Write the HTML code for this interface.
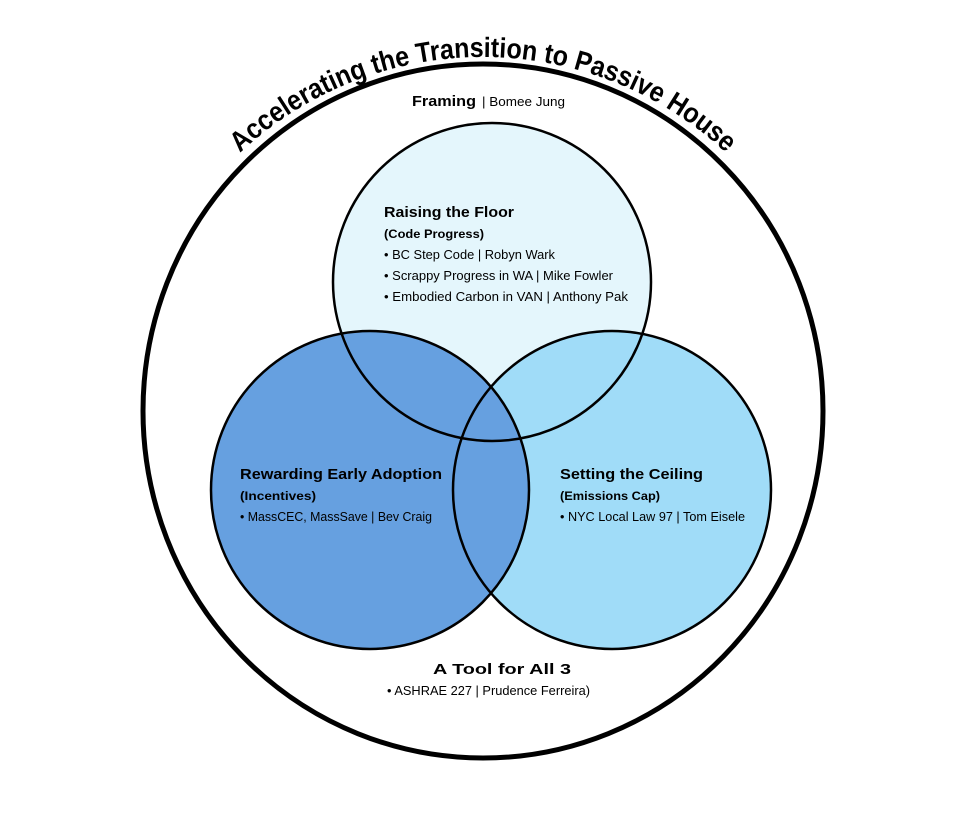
<!DOCTYPE html>
<html><head><meta charset="utf-8"><style>
html,body{margin:0;padding:0;background:#fff;}
svg{display:block;}
text{font-family:"Liberation Sans",sans-serif;fill:#000;}
.h{font-weight:bold;font-size:15px;}
.s{font-weight:bold;font-size:12px;}
.b{font-size:12.5px;}
</style></head><body>
<svg width="960" height="829" viewBox="0 0 960 829" xmlns="http://www.w3.org/2000/svg">
<defs>
<path id="arc" d="M 483 413 m -356 0 a 356 356 0 0 1 712 0"/>
</defs>
<ellipse cx="483" cy="411" rx="340" ry="347" fill="#fff" stroke="#000" stroke-width="5"/>
<text font-weight="bold" font-size="28"><textPath href="#arc" startOffset="50%" text-anchor="middle" textLength="535" lengthAdjust="spacingAndGlyphs">Accelerating the Transition to Passive House</textPath></text>
<circle cx="492" cy="282" r="159" fill="#e4f6fc"/>
<circle cx="612" cy="490" r="159" fill="#a0dcf8"/>
<circle cx="370" cy="490" r="159" fill="#66a0e0"/>
<g fill="none" stroke="#000" stroke-width="2.5">
<circle cx="492" cy="282" r="159"/>
<circle cx="612" cy="490" r="159"/>
<circle cx="370" cy="490" r="159"/>
</g>
<text x="412" y="106" class="h" font-size="14" textLength="64" lengthAdjust="spacingAndGlyphs">Framing</text>
<text x="482" y="106" class="b" textLength="83" lengthAdjust="spacingAndGlyphs">|  Bomee Jung</text>

<text x="384" y="217" class="h" textLength="130" lengthAdjust="spacingAndGlyphs">Raising the Floor</text>
<text x="384" y="238" class="s" textLength="100" lengthAdjust="spacingAndGlyphs">(Code Progress)</text>
<text x="384" y="259" class="b" textLength="171" lengthAdjust="spacingAndGlyphs">• BC Step Code  |  Robyn Wark</text>
<text x="384" y="280" class="b" textLength="229" lengthAdjust="spacingAndGlyphs">• Scrappy Progress in WA  |  Mike Fowler</text>
<text x="384" y="301" class="b" textLength="244" lengthAdjust="spacingAndGlyphs">• Embodied Carbon in VAN  |  Anthony Pak</text>

<text x="240" y="479" class="h" textLength="202" lengthAdjust="spacingAndGlyphs">Rewarding Early Adoption</text>
<text x="240" y="500" class="s" textLength="76" lengthAdjust="spacingAndGlyphs">(Incentives)</text>
<text x="240" y="521" class="b" textLength="192" lengthAdjust="spacingAndGlyphs">• MassCEC, MassSave  |  Bev Craig</text>

<text x="560" y="479" class="h" textLength="143" lengthAdjust="spacingAndGlyphs">Setting the Ceiling</text>
<text x="560" y="500" class="s" textLength="100" lengthAdjust="spacingAndGlyphs">(Emissions Cap)</text>
<text x="560" y="521" class="b" textLength="185" lengthAdjust="spacingAndGlyphs">• NYC Local Law 97  |  Tom Eisele</text>

<text x="433" y="674" class="h" textLength="138" lengthAdjust="spacingAndGlyphs">A Tool for All 3</text>
<text x="387" y="695" class="b" textLength="203" lengthAdjust="spacingAndGlyphs">• ASHRAE 227  |  Prudence Ferreira)</text>
</svg>
</body></html>
